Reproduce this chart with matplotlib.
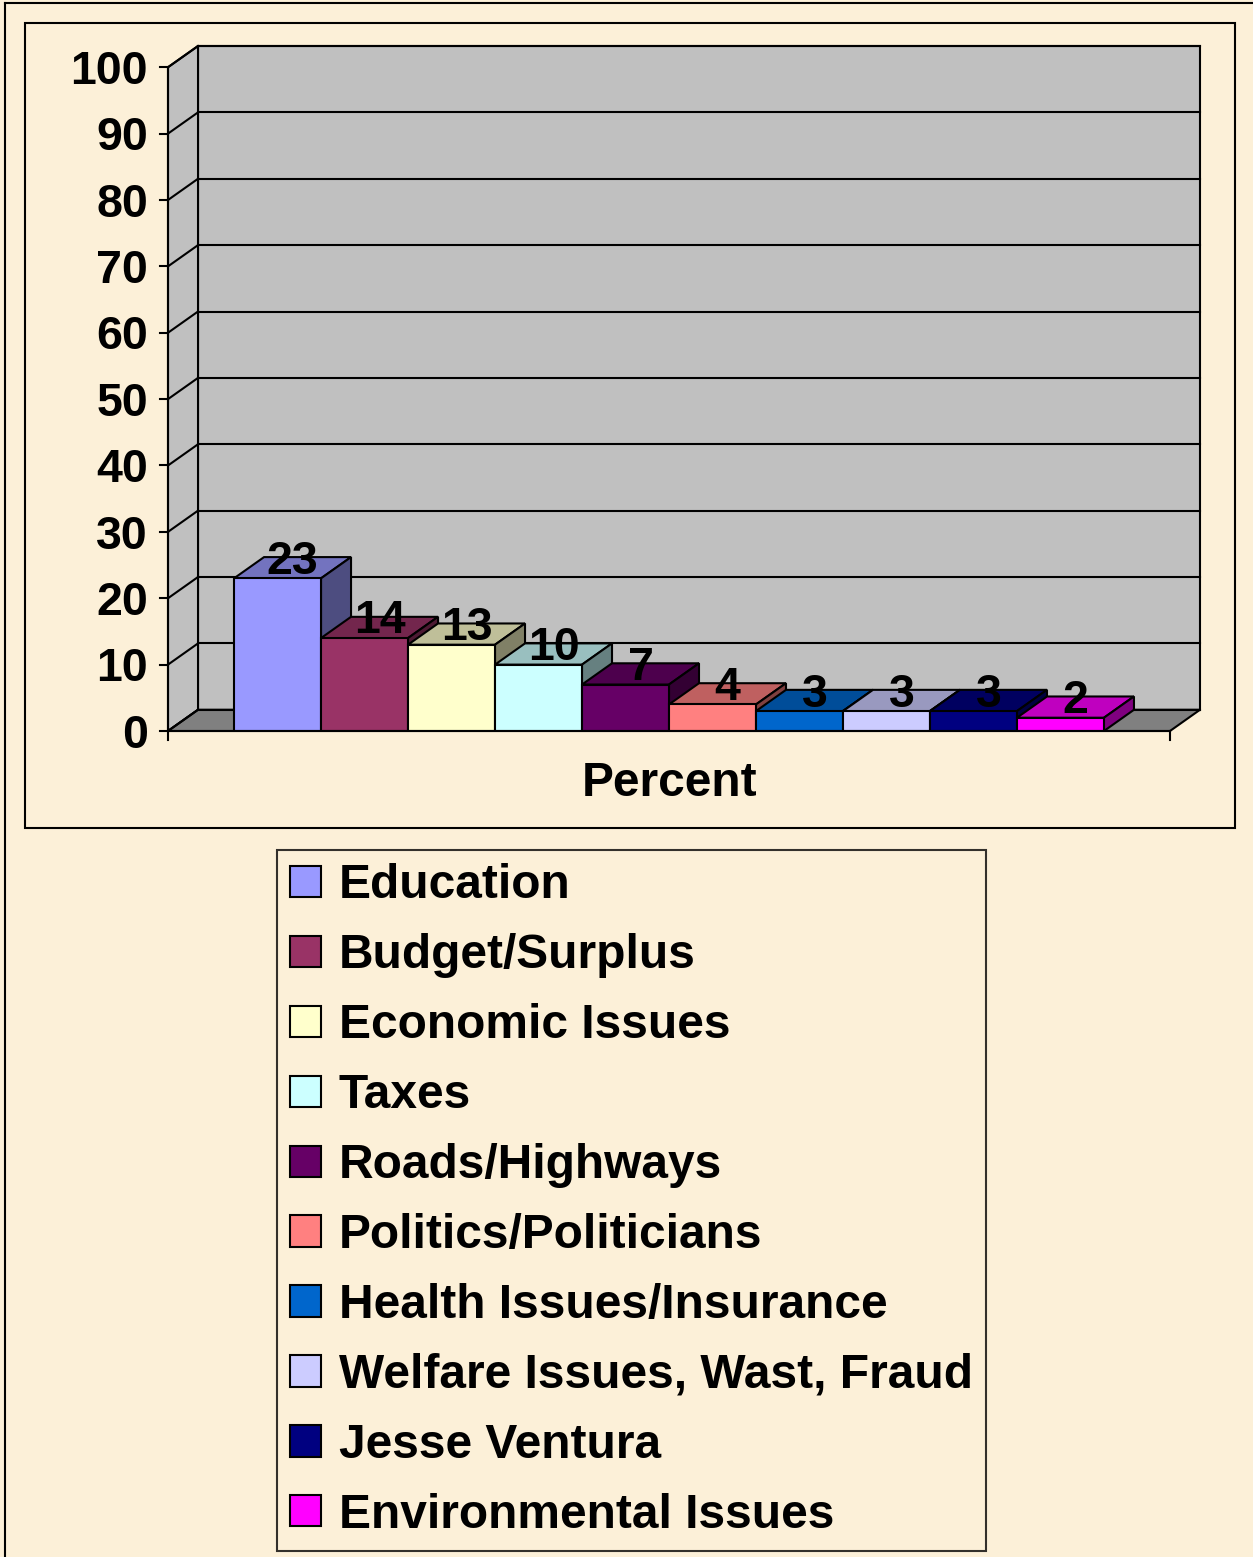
import matplotlib.pyplot as plt
from matplotlib.patches import Polygon, Rectangle
from matplotlib.lines import Line2D
from matplotlib.colors import to_rgb

# Werte aus dem Diagramm
categories = ['Education', 'Budget/Surplus', 'Economic Issues', 'Taxes', 'Roads/Highways',
              'Politics/Politicians', 'Health Issues/Insurance', 'Welfare Issues, Wast, Fraud',
              'Jesse Ventura', 'Environmental Issues']
values = [23, 14, 13, 10, 7, 4, 3, 3, 3, 2]
colors = ['#9999FF', '#993366', '#FFFFCC', '#CCFFFF', '#660066',
          '#FF8080', '#0066CC', '#CCCCFF', '#000080', '#FF00FF']
y_ticks = [0, 10, 20, 30, 40, 50, 60, 70, 80, 90, 100]
axis_title = 'Percent'

plt.rcParams['font.family'] = ['Liberation Sans', 'DejaVu Sans']
bg = '#FCF0D8'
W, H = 1253, 1557
fs = 33.5
fs_leg = 34.5
cap_off = -fs * 0.716 / 2  # Ziffern mittig setzen (in Punkten)

fig = plt.figure(figsize=(W / 100, H / 100), dpi=100, facecolor=bg)

# Rahmen (Pixelkoordinaten von oben links)
def px_rect(x0, y0, x1, y1, **kw):
    fig.patches.append(Rectangle((x0 / W, 1 - y1 / H), (x1 - x0) / W, (y1 - y0) / H,
                                 transform=fig.transFigure, fill=False, **kw))

fig.lines.append(Line2D([5 / W, 5 / W], [0, 1 - 3 / H], transform=fig.transFigure, color='black', lw=1.5))
fig.lines.append(Line2D([5 / W, 1], [1 - 3 / H, 1 - 3 / H], transform=fig.transFigure, color='black', lw=1.5))
px_rect(25, 23, 1235, 828, edgecolor='black', lw=1.5)

# 3D-Parameter (in Datenkoordinaten)
dx, dy = 0.345, 3.2
x0, x1 = -1.259, 10.259
ax = fig.add_axes([168 / W, 1 - 731 / H, (1200 - 168) / W, (731 - 46) / H])
ax.set_xlim(x0, x1 + dx)
ax.set_ylim(0, 100 + dy)
ax.axis('off')
ax.patch.set_alpha(0)

lk = dict(color='black', lw=1.5, clip_on=False)
# Rueckwand, Seitenwand, Boden
ax.add_patch(Polygon([(x0 + dx, dy), (x1 + dx, dy), (x1 + dx, 100 + dy), (x0 + dx, 100 + dy)],
                     facecolor='#C0C0C0', edgecolor='black', lw=1.5, clip_on=False, zorder=1))
ax.add_patch(Polygon([(x0, 0), (x0 + dx, dy), (x0 + dx, 100 + dy), (x0, 100)],
                     facecolor='#C0C0C0', edgecolor='black', lw=1.5, clip_on=False, zorder=1))
ax.add_patch(Polygon([(x0, 0), (x1, 0), (x1 + dx, dy), (x0 + dx, dy)],
                     facecolor='#808080', edgecolor='black', lw=1.5, clip_on=False, zorder=1))
for t in y_ticks:
    ax.plot([x0 + dx, x1 + dx], [t + dy, t + dy], zorder=2, **lk)
    ax.plot([x0, x0 + dx], [t, t + dy], zorder=2, **lk)
    ax.plot([x0 - 0.092, x0], [t, t], zorder=2, **lk)
    ax.annotate(str(t), (x0 - 0.23, t), xytext=(0, cap_off), textcoords='offset points',
                ha='right', va='baseline', fontsize=fs, fontweight='bold', annotation_clip=False)
ax.plot([x0, x0], [0, 100], zorder=2, **lk)
ax.plot([x0, x0], [0, -1.3], zorder=2, **lk)
ax.plot([x1, x1], [0, -1.3], zorder=2, **lk)

# Balken
xs = list(range(len(values)))
bars = ax.bar(xs, values, width=1.0, color=colors, edgecolor='black', linewidth=1.5,
              label=categories, zorder=3)
for i, (x, v, c) in enumerate(zip(xs, values, colors)):
    r, g, b = to_rgb(c)
    top = (r * 0.75, g * 0.75, b * 0.75)
    side = (r * 0.5, g * 0.5, b * 0.5)
    l, rr = x - 0.5, x + 0.5
    z = 3 + i * 0.01
    ax.add_patch(Polygon([(l, v), (rr, v), (rr + dx, v + dy), (l + dx, v + dy)],
                         facecolor=top, edgecolor='black', lw=1.5, clip_on=False, zorder=z))
    ax.add_patch(Polygon([(rr, 0), (rr + dx, dy), (rr + dx, v + dy), (rr, v)],
                         facecolor=side, edgecolor='black', lw=1.5, clip_on=False, zorder=z))
    bars[i].set_zorder(z + 0.005)
    ax.annotate(str(v), (x + dx / 2, v + dy), xytext=(0, cap_off), textcoords='offset points',
                ha='center', va='baseline', fontsize=fs, fontweight='bold', zorder=10,
                annotation_clip=False)

ax.plot([x0, x1], [0, 0], zorder=5, **lk)
fig.text(670 / W, 1 - 783 / H, axis_title, ha='center', va='center', fontsize=fs_leg, fontweight='bold')

# Legende
leg = fig.legend(handles=list(bars), labels=categories, loc='upper left',
                 bbox_to_anchor=(277 / W, 1 - 850 / H),
                 prop={'weight': 'bold', 'size': fs_leg},
                 handlelength=0.63, handleheight=0.63, handletextpad=0.375,
                 labelspacing=0.52, borderpad=0.28, borderaxespad=0,
                 fancybox=False, frameon=True, edgecolor='black', facecolor=bg)
leg.get_frame().set_linewidth(1.5)

fig.savefig('out.png', dpi=100, facecolor=bg)
